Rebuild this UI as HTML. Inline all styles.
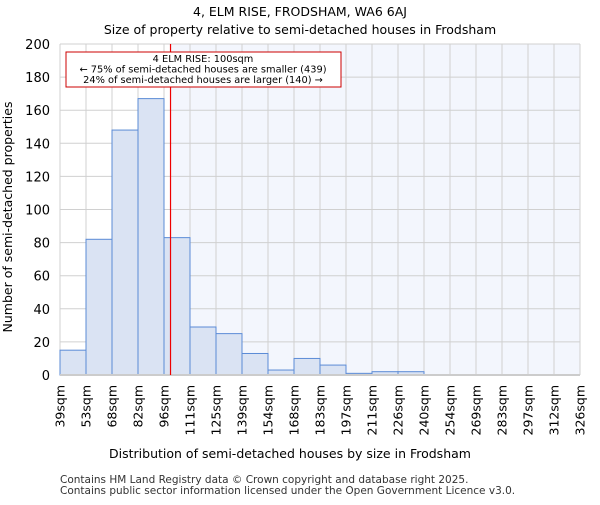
<!DOCTYPE html>
<html><head><meta charset="utf-8"><style>
body{margin:0;background:#fff;}
svg{font-family:"DejaVu Sans","Liberation Sans",sans-serif;}
</style></head><body>
<svg id="c" width="600" height="500" xmlns="http://www.w3.org/2000/svg">
<text x="300" y="16" text-anchor="middle" font-size="12.5">4, ELM RISE, FRODSHAM, WA6 6AJ</text>
<text x="300" y="34" text-anchor="middle" font-size="12.5">Size of property relative to semi-detached houses in Frodsham</text>
<g id="plot"></g>
<text x="290" y="458" text-anchor="middle" font-size="12.5">Distribution of semi-detached houses by size in Frodsham</text>
<text transform="translate(12,217) rotate(-90)" text-anchor="middle" font-size="12.5">Number of semi-detached properties</text>
<text x="60" y="483" font-size="10.5" fill="#333">Contains HM Land Registry data © Crown copyright and database right 2025.</text>
<text x="60" y="494" font-size="10.5" fill="#333">Contains public sector information licensed under the Open Government Licence v3.0.</text>
</svg>
<script>
const labels=["39sqm","53sqm","68sqm","82sqm","96sqm","111sqm","125sqm","139sqm","154sqm","168sqm","183sqm","197sqm","211sqm","226sqm","240sqm","254sqm","269sqm","283sqm","297sqm","312sqm","326sqm"];
const counts=[15,82,148,167,83,29,25,13,3,10,6,1,2,2,0,0,0,0,0,0];
const yTicks=[0,20,40,60,80,100,120,140,160,180,200];
const edgeStart=39, edgeStep=14.35;
const propertySize=100;
const NS="http://www.w3.org/2000/svg";
const X0=60,X1=580,Y0=375,Y1=44,yMax=200;
const bw=(X1-X0)/counts.length;
const xIdx=i=>X0+i*bw;
const xVal=v=>X0+(v-edgeStart)/edgeStep*bw;
const y=v=>Y0-(v/yMax)*(Y0-Y1);
const g=document.getElementById('plot');
function mk(t,a){const e=document.createElementNS(NS,t);for(const k in a)e.setAttribute(k,a[k]);g.appendChild(e);return e;}
const rx=xVal(propertySize);
let e=mk('rect',{x:X0,y:Y1,width:X1-X0,height:Y0-Y1,fill:'#fff'});


e=mk('rect',{x:rx,y:Y1,width:X1-rx,height:Y0-Y1,fill:'#f3f6fd'});


labels.forEach((l,i)=>{const x=xIdx(i);
 e=mk('line',{x1:x,x2:x,y1:Y1,y2:Y0,stroke:'#d0d0d0'});
 
 
 e=mk('text',{transform:`translate(${x+4.5},${Y0+10}) rotate(-90)`,'text-anchor':'end','font-size':12.5});
 e.textContent=l;
 
 
});
yTicks.forEach(v=>{
 e=mk('line',{x1:X0,x2:X1,y1:y(v),y2:y(v),stroke:'#d0d0d0'});
 
 
 e=mk('text',{x:X0-10,y:y(v)+5,'text-anchor':'end','font-size':13});
 e.textContent=v;
 
 
});
counts.forEach((c,i)=>{
 e=mk('rect',{x:xIdx(i),y:y(c),width:bw,height:Y0-y(c),fill:'#dae3f3',stroke:'#5b8bd6','stroke-width':1});
 
 
});
e=mk('line',{x1:X0,x2:X1,y1:Y0,y2:Y0,stroke:'#ccc','stroke-width':2});


e=mk('line',{x1:rx,x2:rx,y1:Y1,y2:Y0,stroke:'#e00','stroke-width':1.2});


e=mk('rect',{x:66,y:52,width:275,height:35,fill:'#fff',stroke:'#c00'});


["4 ELM RISE: 100sqm","← 75% of semi-detached houses are smaller (439)","24% of semi-detached houses are larger (140) →"].forEach((t,i)=>{
 e=mk('text',{x:203,y:62+i*10.5,'text-anchor':'middle','font-size':9.8});
 e.textContent=t;
 
 
});
</script>
</body></html>
